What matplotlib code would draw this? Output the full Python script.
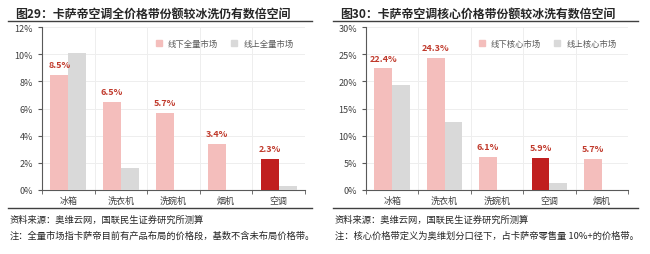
import matplotlib.pyplot as plt
import numpy as np
from matplotlib.lines import Line2D

plt.rcParams['font.family'] = ['Noto Sans CJK SC', 'DejaVu Sans']

# 图29 数据
cats_l = ["冰箱", "洗衣机", "洗碗机", "烟机", "空调"]
offline_l = [8.5, 6.5, 5.7, 3.4, 2.3]
online_l = [10.1, 1.6, 0, 0, 0.3]

# 图30 数据
cats_r = ["冰箱", "洗衣机", "洗碗机", "空调", "烟机"]
offline_r = [22.4, 24.3, 6.1, 5.9, 5.7]
online_r = [19.3, 12.6, 0, 1.2, 0]

PINK = "#F4BEBC"
DARK = "#C01F1F"
GRAY = "#D9D9D9"
LABEL = "#C0392B"
W, H = 650, 255

fig = plt.figure(figsize=(6.5, 2.55), dpi=100)


def panel(x0, x1, title, legend, cats, off, on, ymax, step, note, tx, lx0, lx1):
    ax = fig.add_axes([x0 / W, (H - 191) / H, (x1 - x0) / W, 163 / H])
    x = np.arange(len(cats))
    bw = 0.34
    cols = [DARK if c == "空调" else PINK for c in cats]
    ax.bar(x - bw / 2, off, bw, color=cols, zorder=3)
    ax.bar(x + bw / 2, on, bw, color=GRAY, zorder=3)
    for xi, v in zip(x, off):
        ax.text(xi - bw / 2, v + ymax * 0.035, f"{v:.1f}%", ha="center", va="bottom",
                fontsize=6.5, fontweight="bold", color=LABEL)
    ax.set_xlim(-0.5, len(cats) - 0.5)
    ax.set_ylim(0, ymax)
    ax.set_yticks(np.arange(0, ymax + 0.01, step))
    ax.set_yticklabels([f"{int(t)}%" for t in np.arange(0, ymax + 0.01, step)])
    ax.set_xticks(x)
    ax.set_xticklabels(cats)
    ax.set_xticks(np.arange(-0.5, len(cats)), minor=True)
    ax.tick_params(axis="x", which="major", length=0, labelsize=6.5, colors="#404040", pad=4)
    ax.tick_params(axis="x", which="minor", length=3, color="#595959")
    ax.tick_params(axis="y", length=3, labelsize=6.5, colors="#404040", color="#595959")
    ax.grid(axis="y", color="#EEEEEE", lw=0.7, zorder=0)
    ax.grid(axis="x", which="minor", color="#EEEEEE", lw=0.7, zorder=0)
    for s in ("top", "right"):
        ax.spines[s].set_visible(False)
    for s in ("left", "bottom"):
        ax.spines[s].set_color("#595959")
        ax.spines[s].set_linewidth(0.8)
    h = [Line2D([], [], marker="s", ls="", color=PINK, markersize=4),
         Line2D([], [], marker="s", ls="", color=GRAY, markersize=4)]
    ax.legend(h, legend, loc="upper right", bbox_to_anchor=(0.985, 0.97), ncol=2, frameon=False,
              fontsize=6, handletextpad=0.1, columnspacing=0.9, labelcolor="#595959")

    fig.text(tx / W, 1 - 14 / H, title, fontsize=8.6, fontweight="bold", color="#262626",
             va="center", ha="left")
    fig.add_artist(Line2D([lx0 / W, lx1 / W], [1 - 22 / H] * 2, color="#404040", lw=1))
    fig.add_artist(Line2D([lx0 / W, lx1 / W], [1 - 209 / H] * 2, color="#404040", lw=1))
    fig.text((lx0 + 2) / W, 1 - 220 / H, "资料来源：奥维云网，国联民生证券研究所测算",
             fontsize=6.7, color="#262626", va="center")
    fig.text((lx0 + 2) / W, 1 - 236 / H, note, fontsize=6.7, color="#262626", va="center")


panel(42, 305, "图29：卡萨帝空调全价格带份额较冰洗仍有数倍空间", ["线下全量市场", "线上全量市场"],
      cats_l, offline_l, online_l, 12, 2,
      "注：全量市场指卡萨帝目前有产品布局的价格段，基数不含未布局价格带。", 15, 8, 312)
panel(366, 628, "图30：卡萨帝空调核心价格带份额较冰洗有数倍空间", ["线下核心市场", "线上核心市场"],
      cats_r, offline_r, online_r, 30, 5,
      "注：核心价格带定义为奥维划分口径下，占卡萨帝零售量 10%+的价格带。", 340, 333, 638)

fig.savefig("out.png", dpi=100)
